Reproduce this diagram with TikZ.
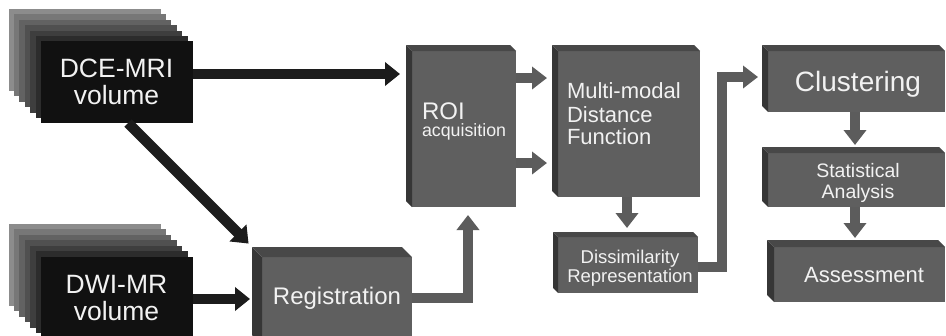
\documentclass[tikz,border=0pt]{standalone}
\usepackage{fontspec}
\setmainfont{Liberation Sans}
\usetikzlibrary{arrows.meta,calc}
\definecolor{frontc}{HTML}{5F5F5F}
\definecolor{leftc}{HTML}{363636}
\definecolor{topc}{HTML}{484848}
\definecolor{arrowk}{HTML}{1C1C1C}
\definecolor{arrowg}{HTML}{5C5C5C}
\definecolor{txt}{HTML}{F2F2F2}
\definecolor{lay0}{HTML}{8C8C8C}
\definecolor{lay1}{HTML}{777777}
\definecolor{lay2}{HTML}{626262}
\definecolor{lay3}{HTML}{505050}
\definecolor{lay4}{HTML}{3E3E3E}
\definecolor{lay5}{HTML}{2C2C2C}
\definecolor{lay6}{HTML}{111111}
\newcommand\fsz[1]{\fontsize{#1}{#1}\selectfont}
\newcommand\boxfaces[2]{%
  \fill[leftc] ($(#1.north west)+(-#2,-#2)$) -- (#1.north west) -- (#1.south west) -- ($(#1.south west)+(-#2,-#2)$) -- cycle;
  \fill[topc] ($(#1.north west)+(-#2,-#2)$) -- ($(#1.north east)+(-#2,-#2)$) -- (#1.north east) -- (#1.north west) -- cycle;}
\tikzset{
  stagebox/.style={fill=frontc, draw=none, inner sep=0pt, outer sep=0pt},
  volbox/.style={fill=lay6, draw=none, inner sep=0pt, outer sep=0pt, minimum width=152pt, minimum height=82pt,
     text=txt, align=center, font=\fontsize{26.5}{27}\selectfont},
  lbl/.style={text=txt, inner sep=0pt, outer sep=0pt},
  karrow/.style={draw=arrowk, line width=10.5pt, line cap=butt, -{Triangle[width=23pt,length=15pt]}},
  garrow/.style={draw=arrowg, line width=10.5pt, line cap=butt, line join=miter, -{Triangle[width=22pt,length=15pt]}},
}
\begin{document}
\begin{tikzpicture}[x=1pt,y=-1pt]
\clip (0,0) rectangle (946,335);
\fill[white] (0,0) rectangle (946,335);
% stacks
\foreach \i in {0,...,5}{
  \fill[lay\i] ({8.5+5.4*\i},{9+5.4*\i}) rectangle ++(152,82);
  \fill[lay\i] ({8.5+5.4*\i},{224+5.4*\i}) rectangle ++(152,82);
}
\node[volbox] (dce) at (116.5,82) {DCE-MRI\\volume};
\node[volbox] (dwi) at (116.5,298) {DWI-MR\\volume};
% stage boxes
\node[stagebox, minimum width=150pt, minimum height=88pt] (reg) at (337,301) {};
\node[stagebox, minimum width=104pt, minimum height=156pt] (roi) at (464,129) {};
\node[stagebox, minimum width=142pt, minimum height=146pt] (mmdf) at (629,124) {};
\node[stagebox, minimum width=140pt, minimum height=56pt] (diss) at (628,265) {};
\node[stagebox, minimum width=177pt, minimum height=61pt] (clus) at (856.5,81.5) {};
\node[stagebox, minimum width=177pt, minimum height=54pt] (stat) at (856.5,180) {};
\node[stagebox, minimum width=171pt, minimum height=55pt] (assess) at (859.5,274.5) {};
\boxfaces{reg}{10}
\boxfaces{roi}{6}
\boxfaces{mmdf}{6}
\boxfaces{diss}{5}
\boxfaces{clus}{6}
\boxfaces{stat}{6}
\boxfaces{assess}{7}
% texts
\node[lbl, anchor=base, font=\fsz{24}] (regt) at (337,304) {Registration};
\node[lbl, anchor=base west, font=\fsz{24}] (roit) at (422,119) {ROI};
\node[lbl, anchor=base west, font=\fsz{17.8}] (roia) at (422,136) {acquisition};
\node[lbl, anchor=base west, font=\fsz{22}] (mm1) at (567,98) {Multi-modal};
\node[lbl, anchor=base west, font=\fsz{22}] (mm2) at (567,122) {Distance};
\node[lbl, anchor=base west, font=\fsz{22}] (mm3) at (567,144) {Function};
\node[lbl, anchor=base, font=\fsz{18.5}] (ds1) at (630,263) {Dissimilarity};
\node[lbl, anchor=base, font=\fsz{18.5}] (ds2) at (630,282) {Representation};
\node[lbl, anchor=base, font=\fsz{28}] (clt) at (858,91) {Clustering};
\node[lbl, anchor=base, font=\fsz{19.5}] (st1) at (858,177) {Statistical};
\node[lbl, anchor=base, font=\fsz{19.5}] (st2) at (858,198) {Analysis};
\node[lbl, anchor=base, font=\fsz{22}] (ast) at (864,282) {Assessment};
% connectors
\draw[karrow, shorten >=12pt] (dce.east |- 0,74) -- (roi.west |- 0,74);
\draw[karrow, shorten >=19pt] (dce.south -| 128,0) -- (reg.north west);
\draw[karrow, shorten >=12pt] (dwi.east |- 0,299) -- (reg.west |- 0,299);
\draw[garrow, shorten >=8pt] (reg.east |- 0,298) -| (roi.south -| 468,0);
\draw[garrow, shorten >=11pt] (roi.east |- 0,78) -- (mmdf.west |- 0,78);
\draw[garrow, shorten >=11pt] (roi.east |- 0,163) -- (mmdf.west |- 0,163);
\draw[garrow, shorten >=9pt] (mmdf.south -| 627,0) -- (diss.north -| 627,0);
\coordinate (bend) at (722,77);
\draw[garrow, shorten >=10pt] (diss.east |- 0,267) -| (bend) -- (clus.west |- bend);
\draw[garrow, shorten >=8pt] (clus.south -| 855,0) -- (stat.north -| 855,0);
\draw[garrow, shorten >=9pt] (stat.south -| 855,0) -- (assess.north -| 855,0);
\end{tikzpicture}
\end{document}
